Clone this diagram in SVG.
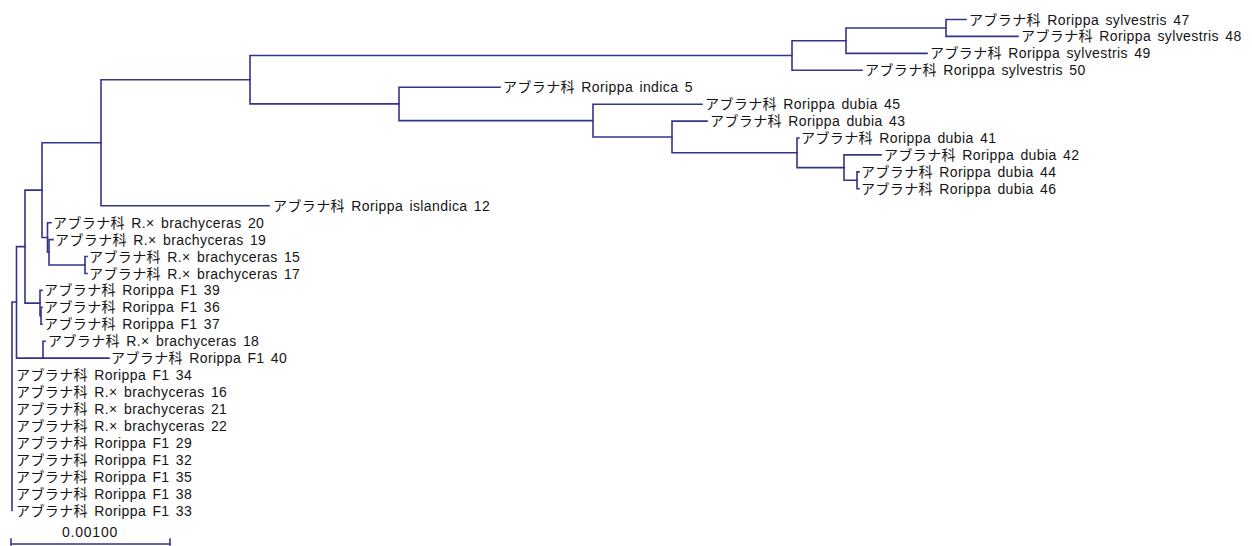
<svg xmlns="http://www.w3.org/2000/svg" width="1252" height="546" viewBox="0 0 1252 546">
<style>
.c path{fill:none;stroke:#34348a;stroke-width:1.6;stroke-linecap:square}
text{font-family:"Liberation Sans","Noto Sans CJK JP",sans-serif;font-size:14px;fill:#141414;letter-spacing:0.4px;word-spacing:2px}
.s{letter-spacing:0.8px;word-spacing:0}
</style>
<rect width="1252" height="546" fill="#ffffff"/>
<g class="c" id="connectors">
<path d="M946 19.5V36.4M946 19.5H966M946 36.4H1018"/>
<path d="M846 28V53.4M846 28H946M846 53.4H927"/>
<path d="M792 40.7V70.3M792 40.7H846M792 70.3H862"/>
<path d="M250 55.5V103.9M250 55.5H792M250 103.9H399"/>
<path d="M399 87.2V120.6M399 87.2H500M399 120.6H593"/>
<path d="M593 104.2V137M593 104.2H702M593 137H672"/>
<path d="M672 121.1V152.8M672 121.1H707M672 152.8H797"/>
<path d="M797 138V167.6M797 138H799M797 167.6H844"/>
<path d="M844 154.9V180.3M844 154.9H881M844 180.3H857"/>
<path d="M857 171.9V188.8M857 171.9H859M857 188.8H859"/>
<path d="M101 79.7V205.7M101 79.7H250M101 205.7H269"/>
<path d="M42 142.7V237.5M42 142.7H101M42 237.5H47.5"/>
<path d="M47.5 222.7V252.3M47.5 222.7H51M47.5 252.3H49"/>
<path d="M49 239.6V265M49 239.6H53M49 265H85"/>
<path d="M85 256.5V273.5M85 256.5H87M85 273.5H87"/>
<path d="M40 290.4V315.8M40 290.4H42M40 315.8H41"/>
<path d="M41 307.3V324.2M41 307.3H42M41 324.2H42"/>
<path d="M25 190.1V303.1M25 190.1H42M25 303.1H40"/>
<path d="M43 341.2V358.1M43 341.2H45M43 358.1H109"/>
<path d="M16.5 246.6V358.1M16.5 246.6H25M16.5 358.1H43"/>
<path d="M12 302V510.5M12 302H16.5"/>
<path d="M11 544H170M11 539V545M170 539V545"/>
</g>
<g id="leaf-syl47"><text x="969" y="24.5">アブラナ科 Rorippa sylvestris 47</text></g>
<g id="leaf-syl48"><text x="1021" y="41.4">アブラナ科 Rorippa sylvestris 48</text></g>
<g id="leaf-syl49"><text x="930" y="58.4">アブラナ科 Rorippa sylvestris 49</text></g>
<g id="leaf-syl50"><text x="865" y="75.3">アブラナ科 Rorippa sylvestris 50</text></g>
<g id="leaf-indica5"><text x="503" y="92.2">アブラナ科 Rorippa indica 5</text></g>
<g id="leaf-dubia45"><text x="705" y="109.2">アブラナ科 Rorippa dubia 45</text></g>
<g id="leaf-dubia43"><text x="710" y="126.1">アブラナ科 Rorippa dubia 43</text></g>
<g id="leaf-dubia41"><text x="801" y="143">アブラナ科 Rorippa dubia 41</text></g>
<g id="leaf-dubia42"><text x="884" y="159.9">アブラナ科 Rorippa dubia 42</text></g>
<g id="leaf-dubia44"><text x="861" y="176.9">アブラナ科 Rorippa dubia 44</text></g>
<g id="leaf-dubia46"><text x="861" y="193.8">アブラナ科 Rorippa dubia 46</text></g>
<g id="leaf-islandica12"><text x="273" y="210.7">アブラナ科 Rorippa islandica 12</text></g>
<g id="leaf-rxb20"><text x="53" y="227.7">アブラナ科 R.× brachyceras 20</text></g>
<g id="leaf-rxb19"><text x="55" y="244.6">アブラナ科 R.× brachyceras 19</text></g>
<g id="leaf-rxb15"><text x="89" y="261.5">アブラナ科 R.× brachyceras 15</text></g>
<g id="leaf-rxb17"><text x="89" y="278.5">アブラナ科 R.× brachyceras 17</text></g>
<g id="leaf-f1-39"><text x="44" y="295.4">アブラナ科 Rorippa F1 39</text></g>
<g id="leaf-f1-36"><text x="44" y="312.3">アブラナ科 Rorippa F1 36</text></g>
<g id="leaf-f1-37"><text x="44" y="329.2">アブラナ科 Rorippa F1 37</text></g>
<g id="leaf-rxb18"><text x="48" y="346.2">アブラナ科 R.× brachyceras 18</text></g>
<g id="leaf-f1-40"><text x="111" y="363.1">アブラナ科 Rorippa F1 40</text></g>
<g id="leaf-f1-34"><text x="16" y="380">アブラナ科 Rorippa F1 34</text></g>
<g id="leaf-rxb16"><text x="16" y="397">アブラナ科 R.× brachyceras 16</text></g>
<g id="leaf-rxb21"><text x="16" y="413.9">アブラナ科 R.× brachyceras 21</text></g>
<g id="leaf-rxb22"><text x="16" y="430.8">アブラナ科 R.× brachyceras 22</text></g>
<g id="leaf-f1-29"><text x="16" y="447.8">アブラナ科 Rorippa F1 29</text></g>
<g id="leaf-f1-32"><text x="16" y="464.7">アブラナ科 Rorippa F1 32</text></g>
<g id="leaf-f1-35"><text x="16" y="481.6">アブラナ科 Rorippa F1 35</text></g>
<g id="leaf-f1-38"><text x="16" y="498.5">アブラナ科 Rorippa F1 38</text></g>
<g id="leaf-f1-33"><text x="16" y="515.5">アブラナ科 Rorippa F1 33</text></g>
<g id="scale"><text class="s" x="90" y="536.5" text-anchor="middle">0.00100</text></g>
</svg>
